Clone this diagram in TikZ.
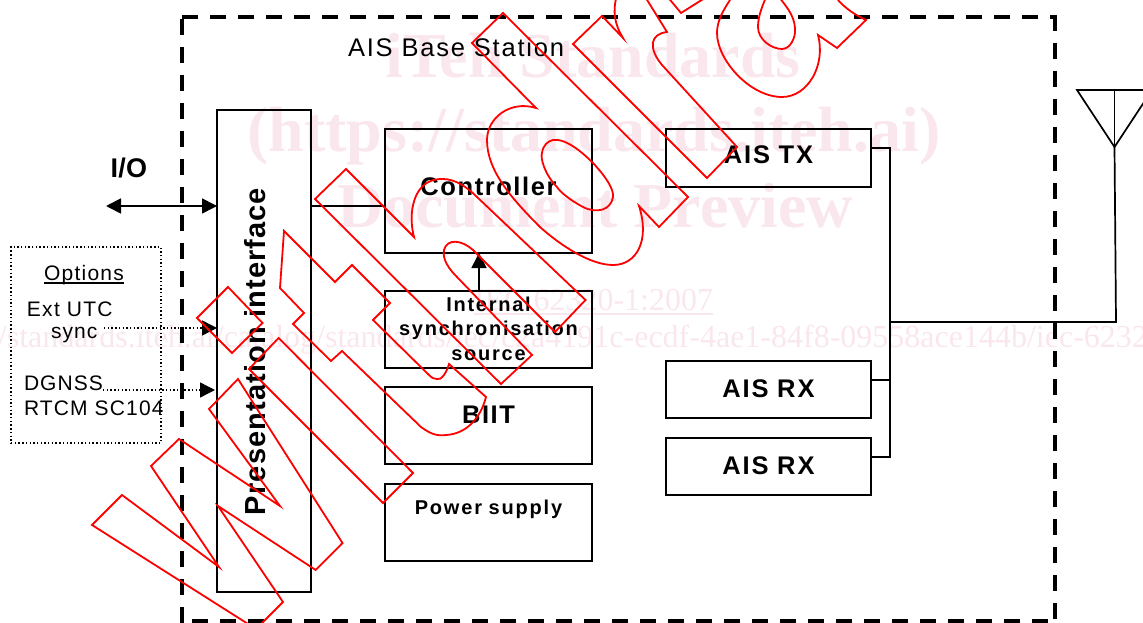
\documentclass[tikz,border=0pt]{standalone}
\usepackage{fontspec}
\setmainfont{Liberation Sans}
\newfontfamily\wmfont{Liberation Serif}
\usetikzlibrary{arrows.meta,calc}
\newsavebox{\ulbox}
\newcommand{\ulx}[3]{\sbox{\ulbox}{#1}\rlap{\vrule width\wd\ulbox height-#2pt depth#3pt}\usebox{\ulbox}}
\newcommand{\fs}[3]{\fontsize{#1}{#2}\selectfont\addfontfeature{LetterSpace=#3}}
\definecolor{wmpink}{HTML}{FAE7ED}
\tikzset{
  x=1pt,y=-1pt,
  wmtext/.style={text=wmpink,inner sep=0,outer sep=0,anchor=base},
  blk/.style={draw=black,line width=2pt,inner sep=0,outer sep=0,align=center,anchor=north west},
  wire/.style={draw=black,line width=1.7pt},
  frameline/.style={draw=black,line width=4pt,dash pattern=on 16pt off 12pt},
  dotline/.style={draw=black,line width=1.4pt,dash pattern=on 1.4pt off 2.3pt},
  tip/.style={-{Triangle[length=15pt,width=15pt]}},
  redline/.style={draw=red,line width=1.8pt,line join=miter},
  plain/.style={inner sep=0,outer sep=0,anchor=base west,text=black},
}
\begin{document}
\begin{tikzpicture}
\path[use as bounding box,clip] (0,0) rectangle (1143,623);
% watermark
\node[wmtext,font={\wmfont\bfseries\fontsize{64}{70}\selectfont}] (wm1) at (593,78) {iTeh Standards};
\node[wmtext,font={\wmfont\bfseries\fontsize{64}{70}\selectfont}] (wm2) at (594,152) {(https://standards.iteh.ai)};
\node[wmtext,font={\wmfont\bfseries\fontsize{64}{70}\selectfont}] (wm3) at (595,227) {Document Preview};
\node[wmtext,font={\wmfont\fontsize{32}{36}\selectfont}] (wm4) at (593.5,310) {\ulx{IEC 62320-1:2007}{3}{4.5}};
\node[wmtext,anchor=base west,font={\wmfont\fontsize{32}{36}\selectfont}] (wm5) at (-2,347) {/standards.iteh.ai/catalog/standards/iec/c2a4191c-ecdf-4ae1-84f8-09558ace144b/iec-6232};
% frame
\coordinate (fa) at (182,17); \coordinate (fb) at (1055,17); \coordinate (fb2) at (1055,15);
\coordinate (fc) at (1055,621); \coordinate (fd) at (192,621); \coordinate (fe) at (182,19); \coordinate (ff) at (182,623);
\draw[frameline] (fa) -- (fb);
\draw[frameline] (fb2) -- (fc);
\draw[frameline] (fd) -- (fc);
\draw[frameline] (fe) -- (ff);
% labels
\node[plain,font=\fs{25.5}{30}{7}] (title) at (348,57) {AIS Base Station};
\node[plain,font={\bfseries\fs{27}{30}{1}}] (io) at (110.5,177) {I/O};
\node[plain,font=\fs{21}{25}{6}] (opt) at (44,280) {\ulx{Options}{2.2}{3.6}};
\node[plain,font=\fs{21}{25}{6}] (ext) at (27,316) {Ext UTC};
\node[plain,font=\fs{21}{25}{5}] (syn) at (51,338) {sync};
\node[plain,font=\fs{21}{25}{5}] (dgn) at (24,390) {DGNSS};
\node[plain,font=\fs{21}{25}{5.5}] (rtc) at (24,415) {RTCM SC104};
% options box
\node[draw=black,line width=1.4pt,dash pattern=on 1.4pt off 2.3pt,inner sep=0,outer sep=0,anchor=north west,minimum width=150pt,minimum height=196pt] (opts) at (11,247) {};
% blocks
\node[blk,rotate=90,anchor=center,text width=482pt,text height=48pt,text depth=46pt,align=left,font={\bfseries\fs{29}{34}{3.8}}] (pres) at (264,351) {\hspace*{77pt}Presentation interface};
\node[blk,text width=207pt,text height=66pt,text depth=58pt,font={\bfseries\fs{25.5}{30}{6.2}}] (ctrl) at (385,129) {Controller};
\node[blk,text width=207pt,text height=20pt,text depth=57pt,font={\bfseries\fs{20}{24.5}{8.7}}] (intl) at (385,291) {Internal\\synchronisation\\source};
\node[blk,text width=207pt,text height=36pt,text depth=41pt,font={\bfseries\fs{25.5}{30}{6}}] (biit) at (385,387) {BIIT};
\node[blk,text width=207pt,text height=30pt,text depth=47pt,font={\bfseries\fs{20}{24}{9}}] (pwr) at (385,484) {Power supply};
\node[blk,text width=205pt,text height=35pt,text depth=23pt,font={\bfseries\fs{25.5}{30}{7.5}}] (tx) at (666,129) {AIS TX};
\node[blk,text width=205pt,text height=36pt,text depth=21pt,font={\bfseries\fs{25.5}{30}{7.5}}] (rx1) at (666,361) {AIS RX};
\node[blk,text width=205pt,text height=36pt,text depth=21pt,font={\bfseries\fs{25.5}{30}{7.5}}] (rx2) at (666,438) {AIS RX};
% connectors
\coordinate (pc) at (385,206);
\draw[wire] (pres.south |- pc) -- (pc);
\coordinate (up) at (479,272);
\draw[wire,tip] (up |- intl.north) -- (up |- ctrl.south);
\coordinate (ioa) at (106,206);
\draw[wire,{Triangle[length=15pt,width=15pt]}-{Triangle[length=15pt,width=15pt]}] (ioa) -- (ioa -| pres.north);
\coordinate (exta) at (104,328);
\draw[dotline,tip] (exta) -- (exta -| pres.north);
\coordinate (dgna) at (103,390);
\coordinate (dgnb) at (215,390);
\draw[dotline,tip] (dgna) -- (dgnb);
\coordinate (txj) at (890,148); \coordinate (rxa) at (890,380); \coordinate (rxb) at (890,457); \coordinate (bus) at (890,322);
\coordinate (corner) at (1116,322); \coordinate (apex) at (1114.5,147); \coordinate (antt) at (1114.5,90);
\coordinate (antl) at (1077,90); \coordinate (antr) at (1152,90);
\draw[wire] (txj -| tx.east) -- (txj) -- (rxb) -- (rxb -| rx2.east);
\draw[wire] (rxa -| rx1.east) -- (rxa);
\draw[wire] (bus) -- (corner) -- (apex);
\draw[wire,line join=miter] (antl) -- (antr) -- (apex) -- cycle;
\draw[wire] (antt) -- (apex);
% red outlined letters
\draw[redline] (92,525) -- (122,495) -- (219,567) -- (151,466) -- (179,439) -- (280,506) -- (209,409) -- (238,379) -- (342.5,543) -- (315.7,570) -- (218,506) -- (283,602) -- (256,629) -- cycle;
\draw[redline] (197,318) -- (228,287) -- (262.5,323) -- (232,353) -- cycle;
\draw[redline] (249,369) -- (278.6,338) -- (413,473) -- (383,503) -- cycle;
\draw[redline] (284,231) -- (280,288) -- (304,313) -- (293,324) -- (331,361) -- (342,351) -- (421,427) .. controls (432,435) and (438,436) .. (446,435) .. controls (465,434) and (480,420) .. (486,397) -- (449,364) .. controls (447,372) and (441,381) .. (437,379) .. controls (434,379) and (432,378) .. (429,375) -- (373,320) -- (390,303) -- (352,265) -- (335,282) -- cycle;
\draw[redline] (315,199) -- (346,169) -- (414,237) .. controls (408,215) and (412,178) .. (443,179) .. controls (455,179) and (467,187) .. (477,197) -- (585.5,300) -- (555,332) -- (473,250) .. controls (462,240) and (447,238) .. (444,250) .. controls (442,260) and (450,270) .. (457,277) -- (532,355) -- (501,384) -- cycle;
\draw[redline] (472,43) -- (503,13) -- (688,197) -- (659,227) -- (639,206) .. controls (650,240) and (637,265) .. (613,265) .. controls (590,265) and (560,245) .. (540,227) .. controls (510,197) and (487,170) .. (487,140) .. controls (487,118) and (510,100) .. (536,108) -- cycle;
\draw[redline] (553,140) .. controls (567,138) and (585,155) .. (593,163) .. controls (607,178) and (614,190) .. (613,197) .. controls (611,210) and (597,214) .. (583,207) .. controls (570,200) and (560,192) .. (557,187) .. controls (545,175) and (540,158) .. (542,153) .. controls (543,145) and (548,141) .. (553,140) -- cycle;
\draw[redline] (573,44) -- (602,16) -- (623,38) .. controls (615,25) and (612,12) .. (617,-5) -- (617,-20) -- (640,-20) -- (644,-5) -- (667,32) .. controls (650,34) and (648,48) .. (662,65) -- (737,147) -- (707,178) -- cycle;
\draw[redline] (666,-5) -- (681,13) -- (708,-4);
\draw[redline] (730,0) .. controls (722,12) and (717,22) .. (717,33) .. controls (717,60) and (750,97) .. (782,97) .. controls (808,97) and (826,65) .. (818,35) -- (837,48) -- (866,20) .. controls (855,15) and (845,8) .. (838,0);
\draw[redline] (768,-8) .. controls (763,5) and (758,15) .. (758,27) .. controls (758,40) and (772,49) .. (782,49) .. controls (790,49) and (796,38) .. (795,28) .. controls (794,14) and (785,5) .. (775,-8);
\end{tikzpicture}
\end{document}
